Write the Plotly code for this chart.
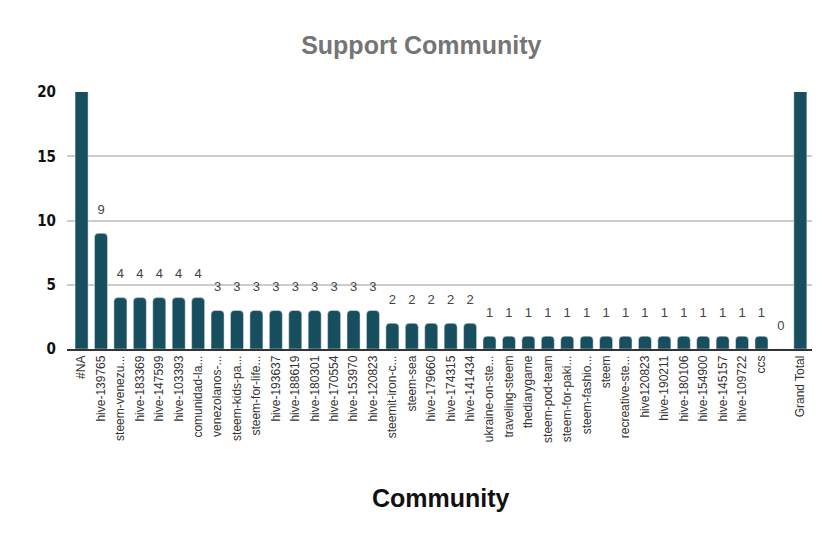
import plotly.graph_objects as go

categories = ["#NA", "hive-139765", "steem-venezu...", "hive-183369", "hive-147599", "hive-103393",
              "comunidad-la...", "venezolanos-...", "steem-kids-pa...", "steem-for-life...",
              "hive-193637", "hive-188619", "hive-180301", "hive-170554", "hive-153970", "hive-120823",
              "steemit-iron-c...", "steem-sea", "hive-179660", "hive-174315", "hive-141434",
              "ukraine-on-ste...", "traveling-steem", "thediarygame", "steem-pod-team",
              "steem-for-paki...", "steem-fashio...", "steem", "recreative-ste...", "hive120823",
              "hive-190211", "hive-180106", "hive-154900", "hive-145157", "hive-109722", "ccs",
              " ", "Grand Total"]
values = [40, 9, 4, 4, 4, 4, 4, 3, 3, 3, 3, 3, 3, 3, 3, 3, 2, 2, 2, 2, 2,
          1, 1, 1, 1, 1, 1, 1, 1, 1, 1, 1, 1, 1, 1, 1, 0, 121]
y_max = 20
y_ticks = [0, 5, 10, 15, 20]

lab_x = [c for c, v in zip(categories, values) if v <= y_max]
lab_y = [v for v in values if v <= y_max]

fig = go.Figure()
fig.add_trace(go.Bar(
    x=categories, y=values,
    marker=dict(color="#184f5e"), cliponaxis=True, hoverinfo="x+y",
))
fig.add_trace(go.Scatter(
    x=lab_x, y=lab_y, mode="markers+text", text=[str(v) for v in lab_y],
    textposition="top center", marker=dict(size=24, opacity=0),
    textfont=dict(family="Liberation Sans, Arial", size=13, color="#444444"),
    hoverinfo="skip", cliponaxis=False,
))
fig.update_layout(
    width=840, height=546,
    margin=dict(l=59, r=36, t=84, b=205),
    paper_bgcolor="white", plot_bgcolor="white",
    bargap=0.33, barcornerradius=4,
    showlegend=False,
    title=dict(text="<b>Support Community</b>", x=0.492, xanchor="center", y=0.932, yanchor="middle",
               font=dict(family="Liberation Sans, Arial", size=25, color="#757575")),
    xaxis=dict(
        type="category", tickangle=-90, showgrid=False, automargin=False,
        range=[-0.75, 37.6],
        tickfont=dict(family="Liberation Sans, Arial", size=12, color="#333333"),
        showline=True, linecolor="#333333", linewidth=1.5, ticks="",
    ),
    yaxis=dict(
        range=[0, y_max], tickvals=y_ticks, showgrid=True, gridcolor="#cccccc", gridwidth=1.5,
        zeroline=False, ticks="", ticklabelstandoff=10, automargin=False,
        tickfont=dict(family="DejaVu Sans Condensed, Liberation Sans", size=15, color="#111111", weight="bold"),
    ),
    annotations=[dict(
        text="<b>Community</b>", xref="paper", yref="paper", x=0.5025, y=-0.58,
        xanchor="center", yanchor="middle", showarrow=False,
        font=dict(family="Liberation Sans, Arial", size=25, color="#111111"),
    )],
    font=dict(family="Liberation Sans, Arial"),
)
fig.write_html("out.html")
